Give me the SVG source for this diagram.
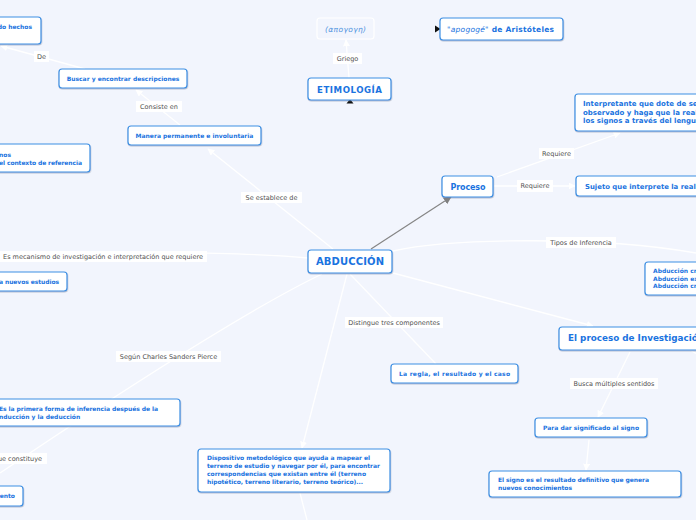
<svg xmlns="http://www.w3.org/2000/svg" width="696" height="520" viewBox="0 0 696 520">
<defs>
<filter id="sh" x="-10%" y="-20%" width="120%" height="150%">
<feDropShadow dx="0.4" dy="1" stdDeviation="0.6" flood-color="#6d7f99" flood-opacity="0.45"/>
</filter>
<marker id="aw" viewBox="0 0 10 10" refX="9" refY="5" markerWidth="7" markerHeight="7" markerUnits="userSpaceOnUse" orient="auto">
<path d="M0,0 L10,5 L0,10 z" fill="#ffffff"/>
</marker>
<marker id="ag" viewBox="0 0 10 10" refX="9" refY="5" markerWidth="8" markerHeight="8" markerUnits="userSpaceOnUse" orient="auto">
<path d="M0,0 L10,5 L0,10 z" fill="#808080"/>
</marker>
</defs>
<style>
.n rect{fill:#ffffff;stroke:#3d8fe3;stroke-width:1.2;filter:url(#sh)}
.n text{font-family:"DejaVu Sans",Verdana,sans-serif;font-weight:bold;fill:#1a73e0;font-size:6px}
.l rect{fill:#ffffff}
.l text{font-family:"DejaVu Sans",Verdana,sans-serif;fill:#505050;font-size:6.5px;text-anchor:middle}
.c path{stroke:#ffffff;stroke-width:1.3;fill:none}
.m{text-anchor:middle}
</style>
<rect width="696" height="520" fill="#f2f5fd"/>
<g id="connectors" class="c">
<path d="M85,69 L1,46" marker-end="url(#aw)"/>
<path d="M180,125 L136,90" marker-end="url(#aw)"/>
<path d="M333,249 L208,149" marker-end="url(#aw)"/>
<path d="M308,258 C250,252 100,251 0,252"/>
<path d="M371,249 L451,197" style="stroke:#858585;stroke-width:1.2" marker-end="url(#ag)"/>
<path d="M497,177 L620,133" marker-end="url(#aw)"/>
<path d="M494,186 L575,186" marker-end="url(#aw)"/>
<path d="M393,251 C450,238 600,236 696,253"/>
<path d="M393,273 L593,326" marker-end="url(#aw)"/>
<path d="M630,352 L598,417" marker-end="url(#aw)"/>
<path d="M589,440 L586,470" marker-end="url(#aw)"/>
<path d="M350,274 L436,364"/>
<path d="M347,274 L302,448" marker-end="url(#aw)"/>
<path d="M300,493 L307,520"/>
<path d="M322,274 Q230,318 0,473"/>
<path d="M690,350 L700,356"/>
<path d="M349,78 L346,40" marker-end="url(#aw)"/>
<polygon points="346.5,103.5 353.5,103.5 350,99" fill="#111"/>
<polygon points="435,25.5 435,32.5 440.5,29" fill="#111"/>
</g>
<g id="labels">
<g class="l"><rect x="34" y="51" width="15" height="11"/><text x="41.5" y="58.9">De</text></g>
<g class="l"><rect x="136" y="101" width="46" height="11"/><text x="159" y="108.8">Consiste en</text></g>
<g class="l"><rect x="241" y="192" width="61" height="11"/><text x="271.5" y="199.9">Se establece de</text></g>
<g class="l"><rect x="0" y="251" width="207" height="11"/><text x="103" y="259.1">Es mecanismo de investigación e interpretación que requiere</text></g>
<g class="l"><rect x="333" y="53" width="29" height="11"/><text x="347.5" y="60.7">Griego</text></g>
<g class="l"><rect x="539" y="148" width="35" height="11"/><text x="556.5" y="155.8">Requiere</text></g>
<g class="l"><rect x="517" y="180" width="36" height="12"/><text x="535" y="188.1">Requiere</text></g>
<g class="l"><rect x="546" y="237" width="70" height="11"/><text x="581" y="244.8">Tipos de Inferencia</text></g>
<g class="l"><rect x="345" y="317" width="98" height="11"/><text x="394" y="324.8">Distingue tres componentes</text></g>
<g class="l"><rect x="116" y="351" width="105" height="11"/><text x="168.5" y="358.8">Según Charles Sanders Pierce</text></g>
<g class="l"><rect x="570" y="378" width="88" height="11"/><text x="614" y="385.8">Busca múltiples sentidos</text></g>
<g class="l"><rect x="-10" y="453" width="57" height="11"/><text x="42" y="460.8" style="text-anchor:end">que constituye</text></g>
</g>
<g id="n-hechos" class="n"><rect x="-10" y="17" width="51" height="27" rx="3"/><text x="32" y="29.3" style="text-anchor:end">do hechos</text></g>
<g id="n-buscar" class="n"><rect x="59" y="69" width="128" height="19" rx="3"/><text x="123" y="81" class="m">Buscar y encontrar descripciones</text></g>
<g id="n-manera" class="n"><rect x="128" y="126" width="133" height="19" rx="3"/><text x="194.5" y="138" class="m">Manera permanente e involuntaria</text></g>
<g id="n-contexto" class="n"><rect x="-10" y="144" width="100" height="28" rx="3"/><text x="-1" y="156.5">nos</text><text x="-1" y="165.2" textLength="83">el contexto de referencia</text></g>
<g id="n-estudios" class="n"><rect x="-10" y="272" width="77" height="19" rx="3"/><text x="-1" y="284.2" textLength="60">a nuevos estudios</text></g>
<g id="n-abduccion" class="n"><rect x="308" y="250" width="84" height="23" rx="3"/><text x="350" y="265.3" class="m" style="font-size:10px" textLength="68">ABDUCCIÓN</text></g>
<g id="n-etimologia" class="n"><rect x="308" y="78" width="83" height="22" rx="3"/><text x="349.5" y="93" class="m" style="font-size:8.6px" textLength="65">ETIMOLOGÍA</text></g>
<g id="n-griego" class="n"><rect x="317" y="18" width="57" height="21" rx="3" style="fill:none;stroke:#ffffff;filter:none"/><text x="345.5" y="31.8" class="m" style="font-size:7.5px;font-weight:normal;font-style:italic;fill:#4f93e0" textLength="41">(απογογη)</text></g>
<g id="n-aristoteles" class="n"><rect x="440" y="18" width="123" height="22" rx="3"/><text x="447" y="31.7" style="font-size:7.5px" textLength="107"><tspan style="font-weight:normal">"</tspan><tspan style="font-weight:normal;font-style:italic">apogogé</tspan><tspan style="font-weight:normal">"</tspan> de Aristóteles</text></g>
<g id="n-proceso" class="n"><rect x="442" y="176" width="51" height="21" rx="3"/><text x="468" y="189.9" class="m" style="font-size:8px" textLength="35">Proceso</text></g>
<g id="n-interpretante" class="n"><rect x="575" y="94" width="140" height="37" rx="3"/><text x="583" y="106.2" style="font-size:7px">Interpretante que dote de sentido</text><text x="583" y="114.5" style="font-size:7px">observado y haga que la realidad</text><text x="583" y="122.9" style="font-size:7px">los signos a través del lenguaje</text></g>
<g id="n-sujeto" class="n"><rect x="576" y="176" width="140" height="20" rx="3"/><text x="585" y="188.5" style="font-size:6.9px">Sujeto que interprete la realidad</text></g>
<g id="n-tipos" class="n"><rect x="645" y="262" width="70" height="33" rx="3"/><text x="653" y="273">Abducción creativa</text><text x="653" y="280.5">Abducción explicativa</text><text x="653" y="288">Abducción creativa</text></g>
<g id="n-investigacion" class="n"><rect x="559" y="327" width="150" height="23" rx="3"/><text x="568" y="341.4" style="font-size:8.8px">El proceso de Investigación</text></g>
<g id="n-regla" class="n"><rect x="391" y="364" width="127" height="19" rx="3"/><text x="454.5" y="376.2" class="m" textLength="111">La regla, el resultado y el caso</text></g>
<g id="n-significado" class="n"><rect x="535" y="418" width="112" height="19" rx="3"/><text x="591" y="430.2" class="m" textLength="96">Para dar significado al signo</text></g>
<g id="n-signo" class="n"><rect x="489" y="471" width="192" height="26" rx="3"/><text x="498" y="482.2" textLength="151">El signo es el resultado definitivo que genera</text><text x="498" y="490.2" textLength="74">nuevos conocimientos</text></g>
<g id="n-dispositivo" class="n"><rect x="198" y="449" width="192" height="43" rx="3"/><text x="207" y="460.2" textLength="163">Dispositivo metodológico que ayuda a mapear el</text><text x="207" y="468.3" textLength="173">terreno de estudio y navegar por él, para encontrar</text><text x="207" y="476.3" textLength="159">correspondencias que existan entre él (terreno</text><text x="207" y="484.3" textLength="156">hipotético, terreno literario, terreno teórico)...</text></g>
<g id="n-primera" class="n"><rect x="-10" y="399" width="190" height="27" rx="3"/><text x="-1" y="411.2" textLength="159">Es la primera forma de inferencia después de la</text><text x="-3" y="418.6">inducción y la deducción</text></g>
<g id="n-ento" class="n"><rect x="-10" y="486" width="33" height="20" rx="3"/><text x="15" y="498.2" style="text-anchor:end">ento</text></g>
</svg>
